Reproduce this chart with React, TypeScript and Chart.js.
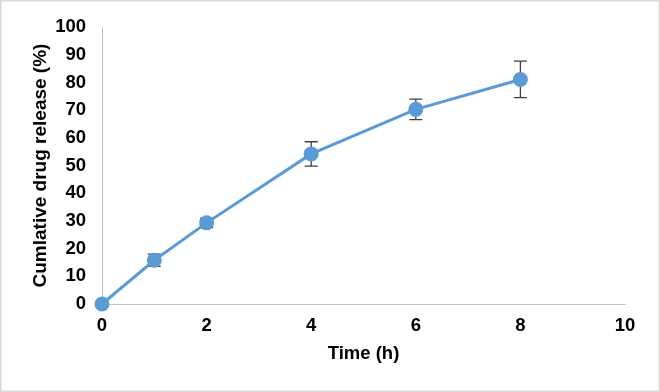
import React, { useEffect, useRef } from "react";
import { Chart, registerables } from "chart.js";

Chart.register(...registerables);

const timeHours = [0, 1, 2, 4, 6, 8];
const releasePct = [0, 15.8, 29.3, 54.2, 70.3, 81.1];
const errorPct = [0, 2.2, 1.7, 4.4, 3.7, 6.6];
const xTicks = [0, 2, 4, 6, 8, 10];
const yTitle = "Cumlative drug release (%)";
const xTitle = "Time (h)";

const errorBarPlugin = {
  id: "errorBars",
  beforeDatasetsDraw(chart: any) {
    const ctx = chart.ctx;
    const xs = chart.scales.x;
    const ys = chart.scales.y;
    ctx.save();
    ctx.strokeStyle = "#404040";
    ctx.lineWidth = 1.3;
    const cap = 6.5;
    timeHours.forEach((t, i) => {
      const e = errorPct[i];
      if (!e) return;
      const x = xs.getPixelForValue(t);
      const yTop = ys.getPixelForValue(releasePct[i] + e);
      const yBot = ys.getPixelForValue(releasePct[i] - e);
      ctx.beginPath();
      ctx.moveTo(x, yTop);
      ctx.lineTo(x, yBot);
      ctx.moveTo(x - cap, yTop);
      ctx.lineTo(x + cap, yTop);
      ctx.moveTo(x - cap, yBot);
      ctx.lineTo(x + cap, yBot);
      ctx.stroke();
    });
    ctx.restore();
  },
};

const framePlugin = {
  id: "frame",
  beforeDraw(chart: any) {
    const ctx = chart.ctx;
    ctx.save();
    ctx.fillStyle = "#ffffff";
    ctx.fillRect(0, 0, chart.width, chart.height);
    ctx.strokeStyle = "#d9d9d9";
    ctx.lineWidth = 1.5;
    ctx.strokeRect(0.75, 0.75, chart.width - 1.5, chart.height - 1.5);
    ctx.restore();
  },
};

export default function App() {
  const ref = useRef<HTMLCanvasElement | null>(null);
  useEffect(() => {
    if (!ref.current) return;
    const font = { family: "'Liberation Sans', Arial, sans-serif", weight: "bold" as const };
    const chart = new Chart(ref.current, {
      type: "line",
      data: {
        datasets: [
          {
            data: timeHours.map((t, i) => ({ x: t, y: releasePct[i] })),
            borderColor: "#5B9BD5",
            backgroundColor: "#5B9BD5",
            borderWidth: 3,
            pointRadius: 6,
            pointHoverRadius: 6,
            pointBackgroundColor: "#5B9BD5",
            pointBorderColor: "#5B9BD5",
            tension: 0,
            clip: false,
          },
        ],
      },
      options: {
        animation: false,
        responsive: false,
        devicePixelRatio: 1,
        layout: { padding: { left: 29, right: 35, top: 24, bottom: 27 } },
        plugins: { legend: { display: false }, tooltip: { enabled: false } },
        scales: {
          x: {
            type: "linear",
            min: 0,
            max: 10,
            afterBuildTicks: (axis: any) => {
              axis.ticks = xTicks.map((v) => ({ value: v }));
            },
            afterFit: (axis: any) => {
              axis.height = 61;
            },
            grid: { display: true, color: "transparent", drawTicks: false },
            border: { display: true, color: "#bfbfbf", width: 1 },
            ticks: { color: "#000", padding: 11, font: { ...font, size: 18.5 }, maxRotation: 0 },
            title: {
              display: true,
              text: xTitle,
              color: "#000",
              font: { ...font, size: 18.5 },
              padding: { top: 6, bottom: 0 },
            },
          },
          y: {
            type: "linear",
            min: 0,
            max: 100,
            afterFit: (axis: any) => {
              axis.width = 73;
            },
            grid: { display: true, color: "transparent", drawTicks: false },
            border: { display: true, color: "#bfbfbf", width: 1 },
            ticks: { color: "#000", padding: 16, stepSize: 10, font: { ...font, size: 18.5 } },
            title: {
              display: true,
              text: yTitle,
              color: "#000",
              font: { ...font, size: 19 },
              padding: { top: 0, bottom: 4 },
            },
          },
        },
      },
      plugins: [framePlugin, errorBarPlugin],
    });
    return () => chart.destroy();
  }, []);
  return (
    <div style={{ position: "absolute", left: 0, top: 0, width: 660, height: 392 }}>
      <canvas ref={ref} width={660} height={392} style={{ display: "block", width: 660, height: 392 }} />
    </div>
  );
}
